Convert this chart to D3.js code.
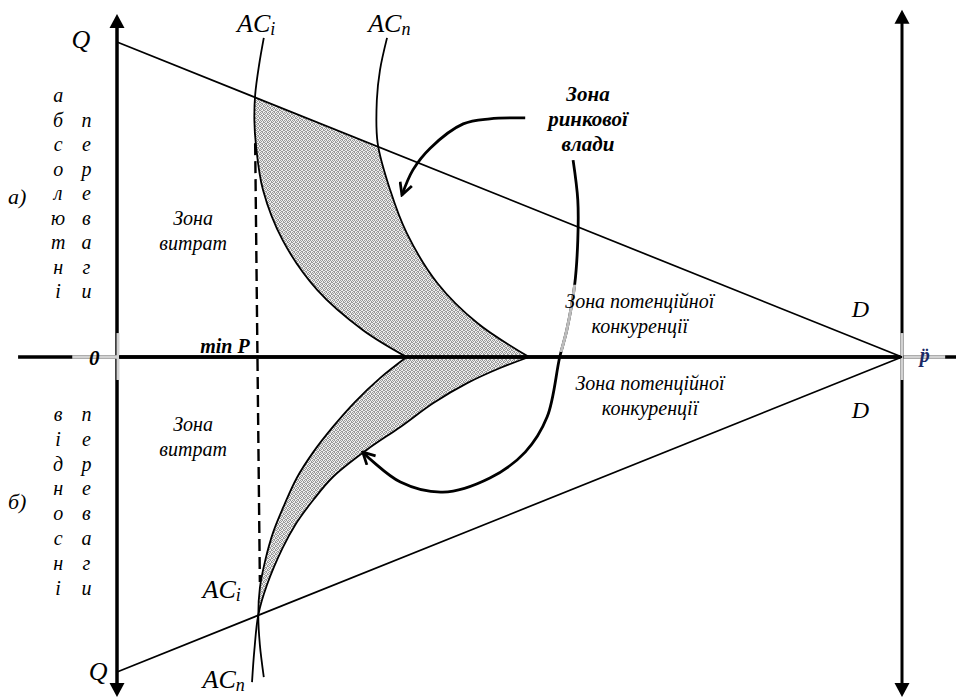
<!DOCTYPE html>
<html>
<head>
<meta charset="utf-8">
<script src="https://cdn.jsdelivr.net/npm/d3@7"></script>
<style>
  body { margin: 0; background: #fff; }
  svg { display: block; }
  text { font-family: "Liberation Serif", "Times New Roman", serif; font-style: italic; fill: #000; }
</style>
</head>
<body>
<svg id="chart"></svg>
<script>
    // x = price (0 at the Q axis, 100 at the p axis), y = quantity (+100 top Q, -100 bottom Q)
    var acUpperI = [[18.7,101.3],[18.1,92.7],[17.6,83.2],[17.5,75.2],[17.7,67.3],[18.6,53.0],[21.1,37.1],[25.5,21.3],[31.3,8.6],[36.9,0]]
    var acUpperN = [[34.4,101.3],[33.5,91.1],[33.1,81.6],[33.2,68.0],[34.8,53.0],[36.9,39.4],[40.8,23.5],[45.9,10.8],[52.5,0]]
    var acLowerI = [[36.9,0],[33.5,-6.7],[30.3,-14.3],[27.5,-22.2],[25.0,-30.2],[22.9,-38.4],[21.3,-47.0],[19.9,-55.6],[18.9,-64.4],[18.2,-73.3],[18.0,-81.9],[18.2,-91.4],[18.7,-101.6]]
    var acLowerN = [[52.5,0],[48.8,-3.5],[44.6,-8.3],[40.3,-14.6],[36.1,-22.2],[31.8,-29.5],[27.5,-38.1],[25.0,-45.4],[22.7,-53.3],[21.1,-60.6],[19.1,-72.4],[18.0,-81.9],[17.5,-93.0],[17.2,-103.2]]

    var demandUpper = [[0,100],[100,0]]
    var demandLower = [[0,-100],[100,0]]
    var minPLine = [[17.6,67.9],[18.2,-71.4]]

    var arrowPower = [[52.0,75.9],[47.5,75.6],[44.1,74.0],[39.9,66.3],[37.7,59.4],[36.3,51.4]]
    var arrowCompetition = [[58.1,62.5],[58.7,49.8],[58.7,37.1],[58.3,22.9],[57.3,8.6],[56.4,0],[54.8,-19.0],[52.0,-30.2],[47.5,-38.4],[41.5,-42.9],[36.1,-39.7],[31.3,-30.2]]

    var letters = {
      absLeft: "абсолютні".split(""),
      absRight: "переваги".split(""),
      relLeft: "відносні".split(""),
      relRight: "переваги".split("")
    }

    var labels = [
      {text: "Q", x: -5.8, y: 98.1, size: 26},
      {text: "Q", x: -3.6, y: -102.5, size: 26},
      {text: "D", x: 93.6, y: 12.7, size: 24},
      {text: "D", x: 93.6, y: -19.4, size: 24},
      {text: "а)", x: -13.9, y: 48.6, size: 22},
      {text: "б)", x: -13.9, y: -48.3, size: 22}
    ]
    var acLabels = [
      {main: "AC", sub: "i", x: 15.3, y: 103.2},
      {main: "AC", sub: "n", x: 32.0, y: 103.2},
      {main: "AC", sub: "i", x: 10.9, y: -76.5},
      {main: "AC", sub: "n", x: 10.9, y: -105.1}
    ]
    var zoneLabels = [
      {lines: ["Зона", "витрат"], x: 9.7, y: 41.9, bold: false},
      {lines: ["Зона", "витрат"], x: 9.7, y: -23.5, bold: false},
      {lines: ["Зона потенційної", "конкуренції"], x: 66.6, y: 15.6, bold: false},
      {lines: ["Зона потенційної", "конкуренції"], x: 67.9, y: -10.5, bold: false},
      {lines: ["Зона", "ринкової", "влади"], x: 60.0, y: 81.3, bold: true}
    ]

    var width = 956
    var height = 698

    var x = d3.scaleLinear().domain([0, 100]).range([117, 902])
    var y = d3.scaleLinear().domain([-100, 100]).range([672, 42])

    var line = d3.line().x(d => x(d[0])).y(d => y(d[1]))
    var smooth = d3.line().x(d => x(d[0])).y(d => y(d[1])).curve(d3.curveCatmullRom.alpha(0.5))

    var svg = d3.select("#chart").attr("width", width).attr("height", height)
    svg.append("rect").attr("width", width).attr("height", height).attr("fill", "#fff")

    var defs = svg.append("defs")

    function setupDefs() {
      // speckled fill for the market power band
      let pat = defs.append("pattern").attr("id", "speckle")
        .attr("patternUnits", "userSpaceOnUse").attr("width", 4).attr("height", 4)
      pat.append("rect").attr("width", 4).attr("height", 4).attr("fill", "#eeeeee")
      ;[[0,0],[2,0],[1,1],[3,2],[0,2],[2,3],[1,3],[3,1]].forEach(p => {
        pat.append("rect").attr("x", p[0]).attr("y", p[1]).attr("width", 1).attr("height", 1).attr("fill", "#9a9a9a")
      })

      defs.append("clipPath").attr("id", "clipUpper").append("path")
        .attr("d", line([[0,100],[100,0],[0,0]]) + "Z")
      defs.append("clipPath").attr("id", "clipLower").append("path")
        .attr("d", line([[0,-100],[100,0],[0,0]]) + "Z")
      defs.append("clipPath").attr("id", "clipGray").append("rect")
        .attr("x", x(50)).attr("width", x(65) - x(50))
        .attr("y", y(22.9)).attr("height", y(1.6) - y(22.9))

      defs.append("marker").attr("id", "head")
        .attr("viewBox", "0 0 12 12").attr("refX", 10.5).attr("refY", 6)
        .attr("markerUnits", "userSpaceOnUse")
        .attr("markerWidth", 15).attr("markerHeight", 15)
        .attr("orient", "auto")
        .append("path").attr("d", "M1,1 L10.5,6 L1,11")
        .attr("fill", "none").attr("stroke", "#000").attr("stroke-width", 2.2)
    }

    function band(a, b) {
      let back = b.slice().reverse()
      return smooth(a) + "L" + smooth(back).slice(1) + "Z"
    }

    function displayBands() {
      svg.append("path").attr("d", band(acUpperI, acUpperN))
        .attr("fill", "url(#speckle)").attr("clip-path", "url(#clipUpper)")
      svg.append("path").attr("d", band(acLowerI, acLowerN))
        .attr("fill", "url(#speckle)").attr("clip-path", "url(#clipLower)")
    }

    function displayAxes() {
      let g = svg.append("g")
      // horizontal price axis
      g.append("line").attr("x1", x(-12.6)).attr("x2", width).attr("y1", y(0)).attr("y2", y(0))
        .attr("stroke", "#000").attr("stroke-width", 3.5)
      // vertical Q axes
      ;[0, 100].forEach(v => {
        let top = v === 0 ? 108.9 : 110.2
        g.append("line").attr("x1", x(v)).attr("x2", x(v)).attr("y1", y(top) + 12).attr("y2", y(-107.9) - 12)
          .attr("stroke", "#000").attr("stroke-width", v === 0 ? 3.5 : 3)
        g.append("path").attr("d", `M${x(v)},${y(top)} L${x(v) - 7.5},${y(top) + 14} L${x(v) + 7.5},${y(top) + 14}Z`)
        g.append("path").attr("d", `M${x(v)},${y(-107.9)} L${x(v) - 7.5},${y(-107.9) - 14} L${x(v) + 7.5},${y(-107.9) - 14}Z`)
      })
      // faded pieces under the 0 and p marks
      let gray = "#d2d2d2"
      g.append("line").attr("x1", x(-5.7)).attr("x2", x(0)).attr("y1", y(0)).attr("y2", y(0))
        .attr("stroke", gray).attr("stroke-width", 3.5)
      g.append("line").attr("x1", x(100) + 2).attr("x2", x(105.5)).attr("y1", y(0)).attr("y2", y(0))
        .attr("stroke", gray).attr("stroke-width", 3.5)
      ;[0, 100].forEach(v => {
        g.append("line").attr("x1", x(v) + (v === 0 ? 1 : 0)).attr("x2", x(v) + (v === 0 ? 1 : 0))
          .attr("y1", y(7.6)).attr("y2", y(-7.3))
          .attr("stroke", gray).attr("stroke-width", 3)
      })
      g.append("line").attr("x1", x(0) + 2).attr("x2", x(100) - 2).attr("y1", y(0)).attr("y2", y(0))
        .attr("stroke", "#000").attr("stroke-width", 3.5)
    }

    function displayCurves() {
      ;[demandUpper, demandLower].forEach(d => {
        svg.append("path").attr("d", line(d)).attr("fill", "none")
          .attr("stroke", "#000").attr("stroke-width", 1.7)
      })
      ;[acUpperI, acUpperN, acLowerI, acLowerN].forEach(d => {
        svg.append("path").attr("d", smooth(d)).attr("fill", "none")
          .attr("stroke", "#000").attr("stroke-width", 1.8)
      })
      svg.append("path").attr("d", line(minPLine)).attr("fill", "none")
        .attr("stroke", "#000").attr("stroke-width", 2.4).attr("stroke-dasharray", "12,6")
    }

    function displayArrows() {
      svg.append("path").attr("d", smooth(arrowPower)).attr("fill", "none")
        .attr("stroke", "#000").attr("stroke-width", 2.8).attr("marker-end", "url(#head)")
      svg.append("path").attr("d", smooth(arrowCompetition)).attr("fill", "none")
        .attr("stroke", "#000").attr("stroke-width", 2.8).attr("marker-end", "url(#head)")
      svg.append("path").attr("d", smooth(arrowCompetition)).attr("fill", "none")
        .attr("stroke", "#bdbdbd").attr("stroke-width", 3).attr("clip-path", "url(#clipGray)")
    }

    function displayText() {
      labels.forEach(l => {
        svg.append("text").attr("x", x(l.x)).attr("y", y(l.y))
          .attr("font-size", l.size).text(l.text)
      })

      acLabels.forEach(l => {
        let t = svg.append("text").attr("x", x(l.x)).attr("y", y(l.y)).attr("font-size", 26)
        t.append("tspan").text(l.main)
        t.append("tspan").attr("font-size", 18).attr("dy", 3).text(l.sub)
      })

      zoneLabels.forEach(z => {
        z.lines.forEach((s, i) => {
          svg.append("text").attr("x", x(z.x)).attr("y", y(z.y) + i * 25)
            .attr("text-anchor", "middle").attr("font-size", z.bold ? 21 : 20)
            .attr("font-weight", z.bold ? "bold" : "normal").text(s)
        })
      })

      // vertical words beside the Q axis
      let cols = [
        {chars: letters.absLeft, x: -7.5, y0: 102, skip: 0},
        {chars: letters.absRight, x: -3.9, y0: 102, skip: 1},
        {chars: letters.relLeft, x: -7.5, y0: 421, skip: 0},
        {chars: letters.relRight, x: -3.9, y0: 421, skip: 0}
      ]
      cols.forEach(c => {
        let step = c.y0 < 357 ? 24.5 : 24.8
        c.chars.forEach((ch, i) => {
          svg.append("text").attr("x", x(c.x)).attr("y", c.y0 + (i + c.skip) * step)
            .attr("text-anchor", "middle").attr("font-size", 20).text(ch)
        })
      })

      svg.append("text").attr("x", x(16.9)).attr("y", y(1.3)).attr("text-anchor", "end")
        .attr("font-size", 20).attr("font-weight", "bold").text("min P")
      svg.append("text").attr("x", x(-2.9)).attr("y", y(-2.4)).attr("text-anchor", "middle")
        .attr("font-size", 21).attr("font-weight", "bold").text("0")
      svg.append("text").attr("x", x(102.9)).attr("y", y(-1.6)).attr("text-anchor", "middle")
        .attr("font-size", 20).attr("font-weight", "bold").style("fill", "#1b2a66").text("p\u0308")
    }

    function displayAll() {
      setupDefs()
      displayBands()
      displayAxes()
      displayCurves()
      displayArrows()
      displayText()
    }

    displayAll()
</script>
</body>
</html>
